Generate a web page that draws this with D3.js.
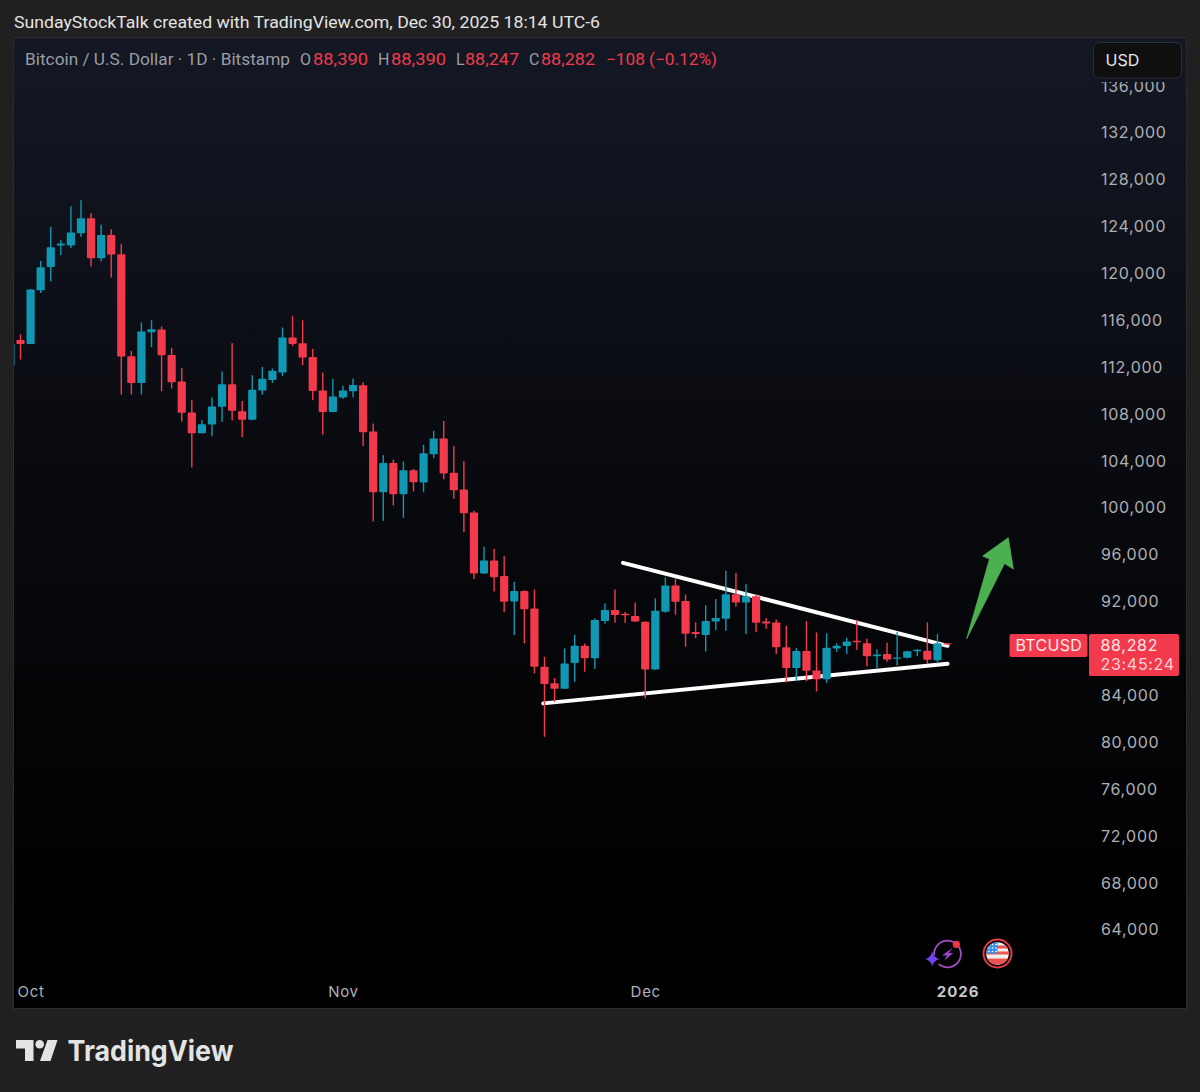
<!DOCTYPE html>
<html>
<head>
  <meta charset="utf-8">
  <title>BTCUSD daily</title>
<script src="https://d3js.org/d3.v7.min.js"></script>
  <style>
    html, body { margin: 0; padding: 0; background: #202020; }
    svg { display: block; }
    text { font-family: Inter, Roboto, sans-serif; }
    .axis path, .axis line { display: none; }
    .axis text { fill: #aeb0b4; font-size: 16px; font-family: Inter, sans-serif; letter-spacing: 0.7px; }
  </style>
</head>
<body>
  <script>
    // daily candles, Sep 29 2025 to Dec 31 2025
    const dates = d3.utcDay.range(new Date(Date.UTC(2025, 8, 29)), new Date(Date.UTC(2026, 0, 1)));

    const opens = [
      112100, 114260, 113920, 118500, 120490, 122310, 122310, 123360, 124640, 121230, 123220,
      121570, 112870, 110590, 114920, 115150, 112980, 110710, 108070, 106300, 107050, 108550,
      110480, 108180, 107440, 109950, 110850, 111480, 114470, 113980, 112810, 109950, 108120,
      109350, 109890, 110400, 106450, 101270, 103750, 101100, 103150, 102100, 104510, 105850,
      102920, 101500, 99540, 94340, 95450, 94110, 91950, 92830, 91350, 86370, 84960,
      84500, 86690, 88160, 87110, 90270, 91210, 90890, 90700, 90210, 86150, 91060,
      93310, 91980, 89330, 89080, 90240, 90470, 92570, 91860, 92400, 90240, 90160,
      88030, 86260, 87710, 86060, 85300, 87940, 88140, 88590, 88390, 87280, 87460,
      87050, 87140, 87770, 87740, 86940, 88390
    ];
    const highs = [
      114700, 114750, 118590, 121000, 123900, 122770, 125670, 126180, 125090, 124100, 123700,
      122450, 113320, 115750, 115940, 115400, 113580, 111870, 109120, 107410, 109350, 111570,
      113980, 109060, 111250, 111960, 111820, 115320, 116280, 115940, 113490, 111480, 110940,
      110340, 110970, 110650, 107130, 104430, 104060, 103890, 103260, 105310, 106500, 107350,
      105220, 103920, 99680, 96610, 96440, 95810, 93620, 92900, 92970, 87220, 85410,
      87940, 89100, 88370, 90500, 91780, 92970, 91060, 91860, 90240, 92210, 94000,
      93910, 92550, 90160, 91630, 92150, 94560, 94390, 93430, 92550, 90530, 90410,
      89870, 87990, 90270, 89310, 89220, 88370, 88850, 90380, 88760, 87860, 88420,
      89360, 87740, 87880, 90160, 89160, 88390
    ];
    const lows = [
      112100, 112590, 113900, 118270, 119240, 121490, 122110, 123050, 120520, 120970, 119580,
      109600, 109600, 109600, 113640, 109890, 110120, 107300, 103380, 106280, 106050, 107270,
      107390, 105960, 107410, 109600, 110590, 111190, 113750, 112100, 109120, 106190, 108100,
      109230, 109350, 105200, 98770, 98820, 100140, 99080, 101330, 101270, 104170, 102360,
      100700, 97860, 93850, 94310, 92800, 91040, 89080, 88370, 85810, 80400, 83360,
      84500, 85090, 85950, 86180, 90040, 90120, 90120, 90210, 83680, 86120, 90980,
      90810, 88080, 88820, 87670, 89500, 89440, 91490, 89160, 89330, 89610, 87480,
      85040, 85150, 85150, 84270, 85010, 87650, 87480, 87800, 86410, 86240, 86800,
      86490, 87090, 87280, 86600, 86660, 88247
    ];
    const closes = [
      113920, 113920, 118560, 120460, 122170, 122480, 123420, 124640, 121230, 123220, 121550,
      112850, 110590, 114980, 115170, 112960, 110650, 108040, 106300, 107070, 108580, 110480,
      108210, 107440, 110000, 110940, 111620, 114470, 113920, 112760, 109910, 108120, 109430,
      109950, 110420, 106390, 101270, 103750, 101100, 103150, 102120, 104600, 105850, 102870,
      101440, 99480, 94340, 95450, 94020, 91920, 92830, 91290, 86370, 84900, 84500,
      86660, 88160, 87110, 90360, 91210, 90780, 90780, 90240, 86150, 91150, 93310,
      91920, 89190, 89160, 90270, 90530, 92570, 91860, 92400, 90120, 90070, 88030,
      86260, 87710, 86030, 85300, 87990, 88160, 88540, 88500, 87280, 87430, 87000,
      87170, 87690, 87820, 86970, 88390, 88282
    ];

    const priceTicks = [136000, 132000, 128000, 124000, 120000, 116000, 112000, 108000, 104000,
      100000, 96000, 92000, 84000, 80000, 76000, 72000, 68000, 64000];
    const timeTicks = [new Date(Date.UTC(2025, 9, 1)), new Date(Date.UTC(2025, 10, 1)),
      new Date(Date.UTC(2025, 11, 1)), new Date(Date.UTC(2026, 0, 1))];
    const timeLabels = ["Oct", "Nov", "Dec", "2026"];

    const upperTrend = [[new Date(Date.UTC(2025, 10, 28, 19)), 95240], [new Date(Date.UTC(2025, 11, 31)), 88160]];
    const lowerTrend = [[new Date(Date.UTC(2025, 10, 20, 21)), 83250], [new Date(Date.UTC(2025, 11, 31)), 86630]];

    const width = 1200, height = 1092;
    const red = "#f23a4c", teal = "#1097b2";

    const x = d3.scaleUtc().domain([timeTicks[0], timeTicks[3]]).range([30.6, 957.6]);
    const y = d3.scaleLinear().domain([64000, 132000]).range([929, 132]);

    const svg = d3.select("body").append("svg")
        .attr("width", width)
        .attr("height", height);

    const defs = svg.append("defs");
    const grad = defs.append("linearGradient")
        .attr("id", "pane").attr("x1", 0).attr("y1", 0).attr("x2", 0).attr("y2", 1);
    grad.append("stop").attr("offset", "0%").attr("stop-color", "#131824");
    grad.append("stop").attr("offset", "45%").attr("stop-color", "#090a0f");
    grad.append("stop").attr("offset", "90%").attr("stop-color", "#000000");
    defs.append("clipPath").attr("id", "clip")
      .append("rect").attr("x", 14).attr("y", 38).attr("width", 1172).attr("height", 970);

    svg.append("rect").attr("width", width).attr("height", height).attr("fill", "#202020");

    svg.append("text").attr("x", 14).attr("y", 27.5)
        .attr("fill", "#e4e4e4").style("font-family", "Roboto, sans-serif")
        .attr("font-size", 17).attr("textLength", 586).attr("lengthAdjust", "spacingAndGlyphs")
        .text("SundayStockTalk created with TradingView.com, Dec 30, 2025 18:14 UTC-6");

    svg.append("rect").attr("x", 13.5).attr("y", 37.5).attr("width", 1173).attr("height", 971)
        .attr("fill", "url(#pane)").attr("stroke", "#2c2c2e");

    // price and time axes
    const yAxis = svg.append("g").attr("class", "axis")
        .attr("transform", "translate(1101,0.8)")
        .call(d3.axisRight(y).tickValues(priceTicks).tickFormat(d3.format(",")).tickSize(0).tickPadding(0));

    const xAxis = svg.append("g").attr("class", "axis")
        .attr("transform", "translate(0,985)")
        .call(d3.axisBottom(x).tickValues(timeTicks).tickFormat((d, i) => timeLabels[i]).tickSize(0).tickPadding(0));
    xAxis.selectAll("text").attr("y", 0).attr("dy", "0.8em")
        .style("font-size", "15px")
        .filter((d, i) => i === 3)
        .style("font-weight", "700").style("fill", "#c8c8c8").style("letter-spacing", "1px");

    const chart = svg.append("g").attr("clip-path", "url(#clip)");

    // trend lines sit under the candles
    const trend = d3.line().x(d => x(d[0])).y(d => y(d[1]));
    chart.selectAll(".trend")
      .data([upperTrend, lowerTrend])
      .enter().append("path")
        .attr("class", "trend")
        .attr("d", trend)
        .attr("fill", "none")
        .attr("stroke", "#ffffff")
        .attr("stroke-width", 4)
        .attr("stroke-linecap", "round");

    const candle = chart.selectAll(".candle")
      .data(dates)
      .enter().append("g")
        .attr("class", "candle")
        .attr("fill", (d, i) => closes[i] >= opens[i] ? teal : red);

    candle.append("rect")
        .attr("x", d => x(d) - 0.7)
        .attr("width", 1.4)
        .attr("y", (d, i) => y(highs[i]))
        .attr("height", (d, i) => y(lows[i]) - y(highs[i]));

    candle.append("rect")
        .attr("x", d => x(d) - 4.1)
        .attr("width", 8.2)
        .attr("rx", 0.8)
        .attr("y", (d, i) => y(Math.max(opens[i], closes[i])))
        .attr("height", (d, i) => Math.max(1.4, Math.abs(y(opens[i]) - y(closes[i]))));

    // green arrow drawn on the chart
    svg.append("path")
        .attr("d", "M966.7,638.7 L989.5,559 L982.7,556 L1008.3,537.7 L1013.3,569 L1004.5,563.5 Z")
        .attr("fill", "#4caf50")
        .attr("stroke", "#4caf50")
        .attr("stroke-width", 0.8)
        .attr("stroke-linejoin", "round");

    // legend line
    const legendFont = "Roboto, sans-serif";
    const legendItems = [
      { x: 25, t: "Bitcoin / U.S. Dollar · 1D · Bitstamp", c: "#9a9da6", w: 265 },
      { x: 300, t: "O", c: "#9a9da6" },
      { x: 313, t: "88,390", c: red, w: 55 },
      { x: 378, t: "H", c: "#9a9da6" },
      { x: 391, t: "88,390", c: red, w: 55 },
      { x: 456, t: "L", c: "#9a9da6" },
      { x: 465, t: "88,247", c: red, w: 54 },
      { x: 529, t: "C", c: "#9a9da6" },
      { x: 541, t: "88,282", c: red, w: 54 },
      { x: 606, t: "−108 (−0.12%)", c: red, w: 111 }
    ];
    svg.selectAll(".legend")
      .data(legendItems)
      .enter().append("text")
        .attr("class", "legend")
        .attr("x", d => d.x)
        .attr("y", 64.5)
        .attr("font-size", 16)
        .attr("fill", d => d.c)
        .style("font-family", legendFont)
        .attr("textLength", d => d.w || null)
        .attr("lengthAdjust", "spacingAndGlyphs")
        .text(d => d.t);

    // currency button, with the strip under it that cuts the top tick label
    svg.append("rect").attr("x", 1093).attr("y", 76).attr("width", 89).attr("height", 6)
        .attr("fill", "#11151f");
    svg.append("rect").attr("x", 1093.5).attr("y", 42.5).attr("width", 88).attr("height", 35.5).attr("rx", 6)
        .attr("fill", "#0f0f0f").attr("stroke", "#2a2d35");
    svg.append("text").attr("x", 1105.5).attr("y", 65.5).attr("font-size", 16).attr("fill", "#e6e6e6").text("USD");

    // last price labels
    svg.append("rect").attr("x", 1009.5).attr("y", 634).attr("width", 78).attr("height", 23).attr("rx", 2).attr("fill", red);
    svg.append("rect").attr("x", 1089).attr("y", 634).attr("width", 90).attr("height", 42).attr("rx", 2).attr("fill", red);
    svg.append("text").attr("x", 1015.5).attr("y", 651).attr("font-size", 16).attr("fill", "#ffe9eb")
        .style("letter-spacing", "0.3px").text("BTCUSD");
    svg.append("text").attr("x", 1100.5).attr("y", 650.5).attr("font-size", 16).attr("fill", "#ffe9eb")
        .style("letter-spacing", "0.7px").text(d3.format(",")(closes[closes.length - 1]));
    svg.append("text").attr("x", 1100.5).attr("y", 669.5).attr("font-size", 16).attr("fill", "#fbd3d7")
        .style("letter-spacing", "0.7px").text("23:45:24");

    // lightning badge
    const badge = svg.append("g");
    badge.append("path")
        .attr("d", d3.arc().innerRadius(12.5).outerRadius(14.3)({ startAngle: -1.65, endAngle: 3.85 }))
        .attr("transform", "translate(947.5,954)")
        .attr("fill", "#a24fc4");
    badge.append("path")
        .attr("d", "M953,947.3 L942,955.5 L947,955.5 L944,960.7 L953.3,953 L948.5,953 Z")
        .attr("fill", "#9a46c8");
    badge.append("path")
        .attr("d", "M932.3,951.5 Q933.5,957.5 939.5,959 Q933.5,960.5 932.3,966.5 Q931,960.5 925.3,959 Q931,957.5 932.3,951.5 Z")
        .attr("fill", "#6f42f0");
    badge.append("circle").attr("cx", 956.3).attr("cy", 944.3).attr("r", 3.6).attr("fill", "#f23645");

    // flag badge
    const flag = svg.append("g").attr("transform", "translate(997.5,953.5)");
    defs.append("clipPath").attr("id", "flagClip").append("circle").attr("r", 11.3);
    flag.append("circle").attr("r", 14).attr("fill", "#000").attr("stroke", "#e23b4a").attr("stroke-width", 2);
    const flagInner = flag.append("g").attr("clip-path", "url(#flagClip)");
    flagInner.append("rect").attr("x", -12).attr("y", -12).attr("width", 24).attr("height", 24).attr("fill", "#f0f0f0");
    [-8, -2, 5].forEach((s, i) => {
      flagInner.append("rect").attr("x", -12).attr("y", s).attr("width", 24).attr("height", i === 2 ? 7 : 3).attr("fill", "#ef5350");
    });
    flagInner.append("rect").attr("x", -12).attr("y", -12).attr("width", 12).attr("height", 12).attr("fill", "#3d8fe3");
    [-9, -5.5, -2].forEach(cy => [-8.5, -5, -1.5].forEach(cx => {
      flagInner.append("circle").attr("cx", cx).attr("cy", cy).attr("r", 0.8).attr("fill", "#ffffff");
    }));

    // footer logo
    const logo = svg.append("g").attr("fill", "#e4e4e4");
    logo.append("path").attr("d", "M16,1040 H33.5 V1061 H25 V1048.5 H16 Z");
    logo.append("circle").attr("cx", 39.7).attr("cy", 1044.3).attr("r", 4.3);
    logo.append("path").attr("d", "M47.5,1040 H57.5 L50.5,1061 H40 Z");
    logo.append("text").attr("x", 67.5).attr("y", 1061)
        .attr("font-size", 28.5).attr("font-weight", 700)
        .style("font-family", "Inter, sans-serif")
        .attr("textLength", 166).attr("lengthAdjust", "spacingAndGlyphs")
        .text("TradingView");
  </script>
</body>
</html>
